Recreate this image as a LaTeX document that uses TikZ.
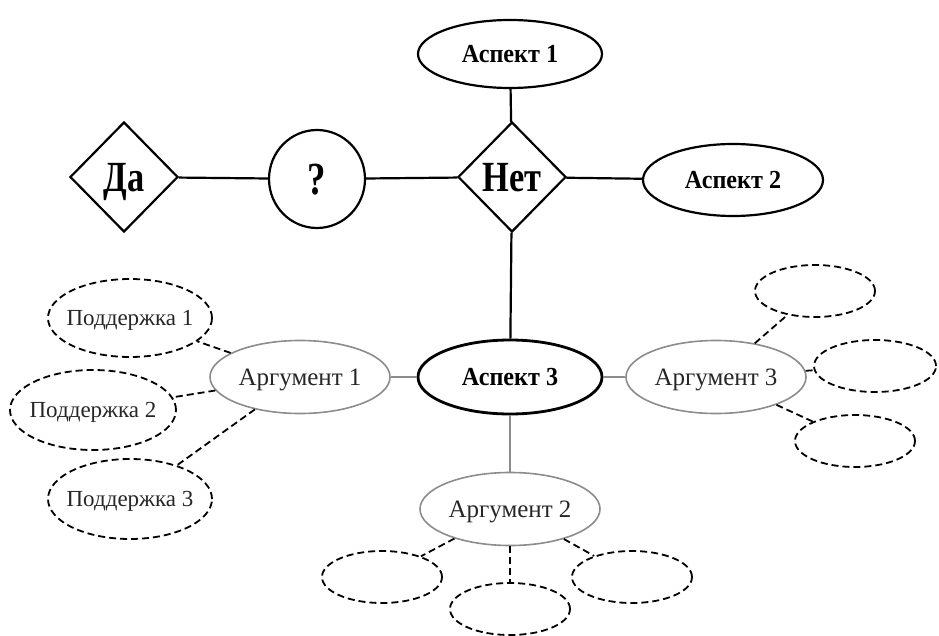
\documentclass[tikz,border=0pt]{standalone}
\usepackage{fontspec}
\setmainfont{Liberation Serif}
\newfontfamily\condserif[FakeStretch=0.8]{Liberation Serif}
\newfontfamily\semiserif[FakeStretch=0.93]{Liberation Serif}
\usetikzlibrary{shapes.geometric}
\begin{document}
\begin{tikzpicture}[x=1pt,y=-1pt,
  aspectnode/.style={ellipse,draw=black,line width=2.2pt,inner sep=0pt,text height=17pt,text depth=0pt,font=\semiserif\bfseries\fontsize{26}{28}\selectfont},
  decision/.style={diamond,draw=black,line width=2.2pt,inner sep=0pt,minimum width=108pt,minimum height=110pt,text height=29pt,text depth=0pt,font=\condserif\bfseries\fontsize{43}{45}\selectfont},
  argnode/.style={ellipse,draw=black!45,line width=1.6pt,inner sep=0pt,minimum width=180pt,minimum height=73pt,text height=16pt,text depth=0pt,font=\fontsize{25}{27}\selectfont,text=black!85},
  supnode/.style={ellipse,draw=black,line width=1.8pt,dash pattern=on 7pt off 4pt,inner xsep=-8pt,inner ysep=0pt,text height=15pt,text depth=0pt,font=\fontsize{23}{25}\selectfont,text=black!85},
  blackline/.style={draw=black,line width=2.2pt},
  grayline/.style={draw=black!45,line width=1.6pt},
  dashline/.style={draw=black,line width=1.8pt,dash pattern=on 7pt off 4pt}]
\useasboundingbox (0,0) rectangle (939,636);
% top level
\node[aspectnode,minimum width=184pt,minimum height=68pt] (a1) at (510,54) {Аспект 1};
\node[decision] (net) at (512,177) {Нет};
\node[decision] (da) at (124,177) {Да};
\node[ellipse,draw=black,line width=2.2pt,inner sep=0pt,minimum width=96pt,minimum height=98pt,text height=31pt,text depth=0pt,font=\condserif\bfseries\fontsize{46}{48}\selectfont] (q) at (317,179) {?};
\node[aspectnode,minimum width=180pt,minimum height=72pt] (a2) at (733,180) {Аспект 2};
\node[aspectnode,line width=2.8pt,minimum width=184pt,minimum height=74pt] (a3) at (510,377) {Аспект 3};
% arguments
\node[argnode] (g1) at (300,377) {Аргумент 1};
\node[argnode] (g3) at (716,377) {Аргумент 3};
\node[argnode] (g2) at (510,509) {Аргумент 2};
% supports
\node[supnode,minimum width=164pt,minimum height=78pt] (s1) at (130,318) {Поддержка 1};
\node[supnode,minimum width=166pt,minimum height=80pt] (s2) at (93,410) {Поддержка 2};
\node[supnode,minimum width=164pt,minimum height=80pt] (s3) at (130,499) {Поддержка 3};
% empty satellites
\node[supnode,minimum width=120pt,minimum height=52pt] (e1) at (815,291) {};
\node[supnode,minimum width=122pt,minimum height=52pt] (e2) at (875,366) {};
\node[supnode,minimum width=120pt,minimum height=52pt] (e3) at (855,441) {};
\node[supnode,minimum width=120pt,minimum height=52pt] (e4) at (382,577) {};
\node[supnode,minimum width=120pt,minimum height=52pt] (e5) at (510,609) {};
\node[supnode,minimum width=120pt,minimum height=52pt] (e6) at (632,577) {};
% connectors
\draw[blackline] (da) -- (q);
\draw[blackline] (q) -- (net);
\draw[blackline] (net) -- (a2);
\draw[blackline] (a1) -- (net);
\draw[blackline] (net) -- (a3);
\draw[grayline] (g1) -- (a3);
\draw[grayline] (a3) -- (g3);
\draw[grayline] (a3) -- (g2);
\draw[dashline] (g1) -- (s1);
\draw[dashline] (g1) -- (s2);
\draw[dashline] (g1) -- (s3);
\draw[dashline] (g3) -- (e1);
\draw[dashline] (g3) -- (e2);
\draw[dashline] (g3) -- (e3);
\draw[dashline] (g2) -- (e4);
\draw[dashline] (g2) -- (e5);
\draw[dashline] (g2) -- (e6);
\end{tikzpicture}
\end{document}
